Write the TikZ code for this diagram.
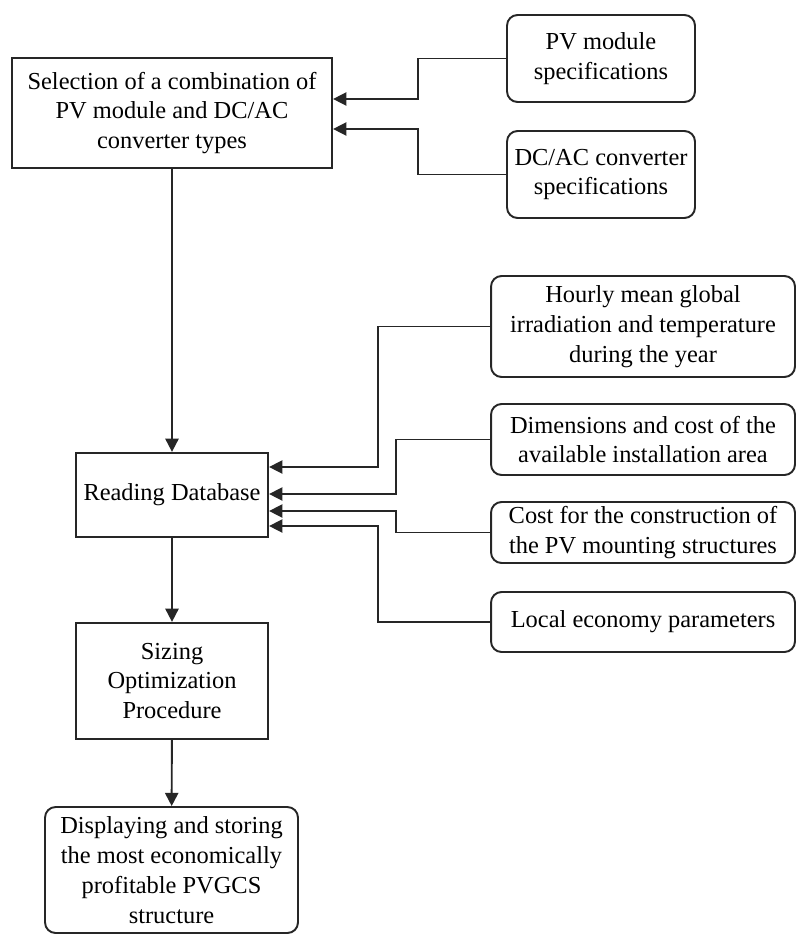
\documentclass[tikz,border=0pt]{standalone}
\usepackage{fontspec}
\setmainfont{Liberation Serif}
\usetikzlibrary{arrows.meta,calc}

\tikzset{
	stepbox/.style={draw=black!85,line width=1.3pt,align=center,inner sep=0pt,font=\fontsize{13.9}{17}\selectfont},
	databox/.style={stepbox,line width=1.1pt,rounded corners=6pt},
	feed/.style={draw=black!85,line width=0.85pt,-{Triangle[length=7.5pt,width=7.5pt]}},
	flow/.style={feed,line width=1.1pt}
}

\begin{document}
\begin{tikzpicture}[x=0.02cm,y=-0.02cm]
		\useasboundingbox (0,0) rectangle (796,936);
		\node[stepbox,minimum width=6.4cm,minimum height=2.2cm] (sel) at (172,113) {Selection of a combination of\\PV module and DC/AC\\converter types};
		\node[databox,minimum width=3.76cm,minimum height=1.74cm] (pvspec) at (601,58.5) {PV module\\specifications};
		\node[databox,minimum width=3.76cm,minimum height=1.74cm] (dcspec) at (601,174.5) {DC/AC converter\\specifications};
		\node[stepbox,minimum width=3.84cm,minimum height=1.68cm] (rd) at (172,495) {Reading Database};
		\node[stepbox,minimum width=3.84cm,minimum height=2.32cm] (sizing) at (172,681) {Sizing\\Optimization\\Procedure};
		\node[databox,minimum width=5.06cm,minimum height=2.52cm] (disp) at (171.5,870) {Displaying and storing\\the most economically\\profitable PVGCS\\structure};
		\node[databox,minimum width=6.08cm,minimum height=2.02cm] (hourly) at (643,326.5) {Hourly mean global\\irradiation and temperature\\during the year};
		\node[databox,minimum width=6.08cm,minimum height=1.42cm] (dims) at (643,439.5) {Dimensions and cost of the\\available installation area};
		\node[databox,minimum width=6.08cm,minimum height=1.22cm] (cost) at (643,532.5) {Cost for the construction of\\the PV mounting structures};
		\node[databox,minimum width=6.08cm,minimum height=1.2cm] (local) at (643,622) {Local economy parameters};

		\draw[flow] (sel) -- (rd);
		\draw[flow] (rd) -- (sizing);
		\draw[flow] (sizing) -- (disp);

		\draw[feed] (pvspec.west) -- ++(-88,0) |- ($(sel.east)+(0,-14)$);
		\draw[feed] (dcspec.west) -- ++(-88,0) |- ($(sel.east)+(0,16)$);

		\draw[feed] (hourly.west) -- ++(-112,0) |- ($(rd.east)+(0,-28)$);
		\draw[feed] (dims.west) -- ++(-94,0) |- ($(rd.east)+(0,-1)$);
		\draw[feed] (cost.west) -- ++(-94,0) |- ($(rd.east)+(0,16)$);
		\draw[feed] (local.west) -- ++(-112,0) |- ($(rd.east)+(0,31)$);
	\end{tikzpicture}
\end{document}
